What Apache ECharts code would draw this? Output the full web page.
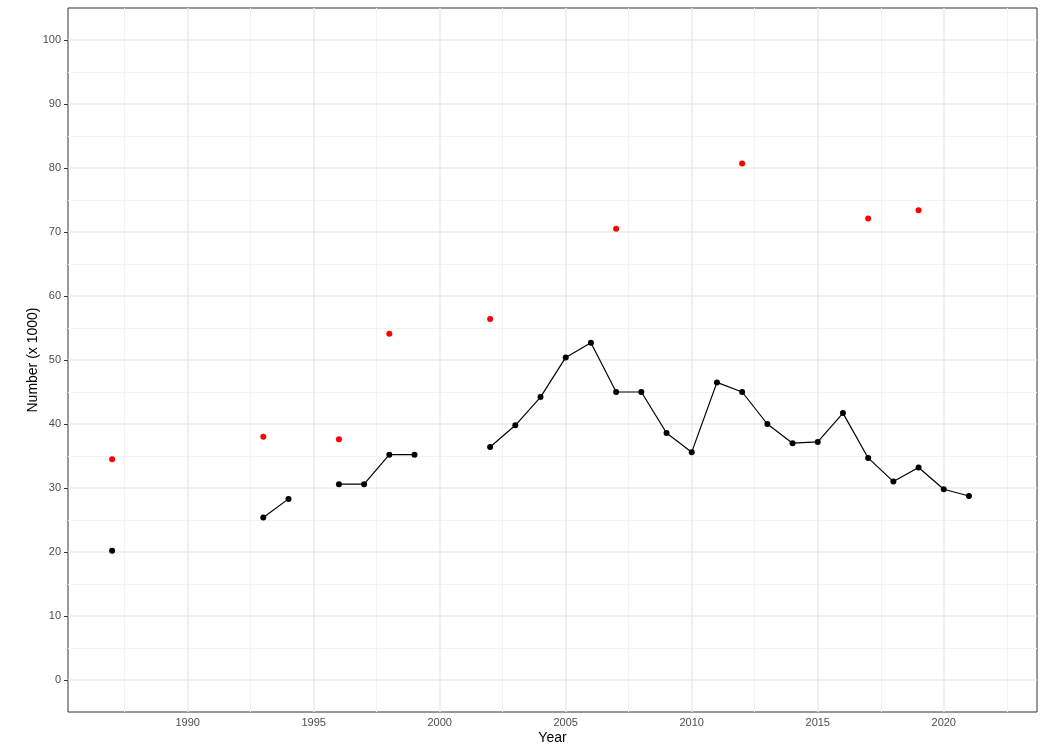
<!DOCTYPE html>
<html>
<head>
<meta charset="utf-8">
<script src="https://cdn.jsdelivr.net/npm/echarts@6/dist/echarts.min.js"></script>
<style>html,body{margin:0;padding:0;background:#fff}#c{width:1041px;height:744px}</style>
</head>
<body>
<div id="c"></div>
<script>
// Data (values in thousands)
const years = [1987,1988,1989,1990,1991,1992,1993,1994,1995,1996,1997,1998,1999,2000,2001,2002,2003,2004,2005,2006,2007,2008,2009,2010,2011,2012,2013,2014,2015,2016,2017,2018,2019,2020,2021];
const blackValues = [20.2,null,null,null,null,null,25.4,28.3,null,30.6,30.6,35.2,35.2,null,null,36.4,39.8,44.2,50.4,52.7,45.0,45.0,38.6,35.6,46.5,45.0,40.0,37.0,37.2,41.7,34.7,31.0,33.2,29.8,28.75];
const redYears = [1987,1993,1996,1998,2002,2007,2012,2017,2019];
const redValues = [34.5,38.0,37.6,54.1,56.4,70.5,80.7,72.1,73.4];
const xTickLabels = [1990,1995,2000,2005,2010,2015,2020];
const xMinorGrid = [1987.5,1992.5,1997.5,2002.5,2007.5,2012.5,2017.5,2022.5];
const yTickLabels = [0,10,20,30,40,50,60,70,80,90,100];
const yMinorGrid = [5,15,25,35,45,55,65,75,85,95];

const font = 'Liberation Sans, Arial, sans-serif';
const major = {color:'#ebebeb', width:1.5, type:'solid'};
const minor = {color:'#f3f3f3', width:1, type:'solid'};

function gridLines(){
  const d = [];
  xMinorGrid.forEach(v=>d.push({xAxis:v, lineStyle:minor}));
  yMinorGrid.forEach(v=>d.push({yAxis:v, lineStyle:minor}));
  xTickLabels.forEach(v=>d.push({xAxis:v, lineStyle:major}));
  yTickLabels.forEach(v=>d.push({yAxis:v, lineStyle:major}));
  return d;
}

const chart = echarts.init(document.getElementById('c'), null, {renderer:'canvas'});
chart.setOption({
  animation:false,
  backgroundColor:'#fff',
  grid:{left:68, right:4, top:8, bottom:32, outerBoundsMode:'none', containLabel:false,
        show:true, borderColor:'#333', borderWidth:1, backgroundColor:'transparent'},
  xAxis:{
    type:'value', min:1985.25, max:2023.7,
    name:'Year', nameLocation:'middle', nameGap:19, nameMoveOverlap:false,
    nameTextStyle:{fontFamily:font, fontSize:14, color:'#000'},
    axisLine:{show:false},
    axisTick:{show:false, customValues:xTickLabels},
    axisLabel:{customValues:xTickLabels, fontFamily:font, fontSize:11, color:'#4d4d4d', margin:5, formatter:v=>String(v)},
    splitLine:{show:false}
  },
  yAxis:{
    type:'value', min:-5, max:105,
    name:'Number (x 1000)', nameLocation:'middle', nameGap:28, nameRotate:90, nameMoveOverlap:false,
    nameTextStyle:{fontFamily:font, fontSize:14, color:'#000'},
    axisLine:{show:false},
    axisTick:{show:true, customValues:yTickLabels, length:4, lineStyle:{color:'#333', width:1}},
    axisLabel:{customValues:yTickLabels, fontFamily:font, fontSize:11, color:'#4d4d4d', margin:7},
    splitLine:{show:false}
  },
  series:[
    {type:'line', data:[], z:0, silent:true,
     markLine:{silent:true, z:0, zlevel:0, symbol:['none','none'], label:{show:false}, animation:false, data:gridLines()}},
    {type:'line', z:3,
     data: years.map((y,i)=>[y, blackValues[i]==null?'-':blackValues[i]]),
     connectNulls:false, symbol:'circle', symbolSize:6, showSymbol:true,
     itemStyle:{color:'#000'}, lineStyle:{color:'#000', width:1.2}},
    {type:'scatter', z:3,
     data: redYears.map((y,i)=>[y, redValues[i]]),
     symbol:'circle', symbolSize:6, itemStyle:{color:'#ff0000', opacity:1}}
  ]
});
</script>
</body>
</html>
